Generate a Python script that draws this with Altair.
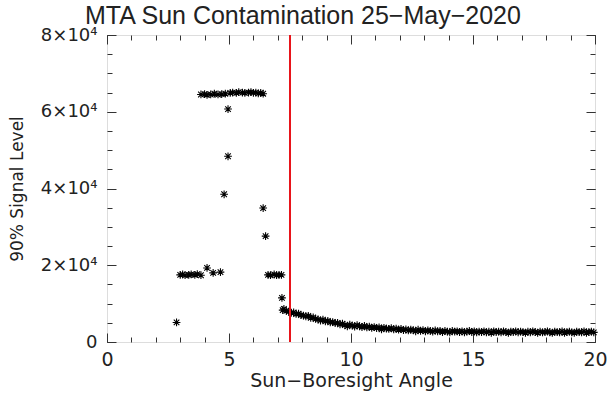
import altair as alt
import pandas as pd

# ---- data ----
early_x = [2.85, 3.0, 3.1, 3.2, 3.35, 3.45, 3.6, 3.7, 3.85, 4.1, 4.35, 4.65, 4.8, 4.96, 4.96,
           3.85, 4.0, 4.1, 4.25, 4.4, 4.55, 4.7, 4.85,
           5.05, 5.15, 5.3, 5.4, 5.55, 5.65, 5.8, 5.9, 6.0, 6.1, 6.2, 6.3, 6.4,
           6.4, 6.5, 6.6, 6.7, 6.85, 6.95, 7.05, 7.15, 7.17]
early_y = [5100, 17500, 17600, 17400, 17500, 17600, 17500, 17700, 17400, 19300, 18000, 18200, 38500, 48400, 60700,
           64500, 64600, 64400, 64500, 64700, 64500, 64600, 64700,
           64900, 65000, 64900, 65100, 65000, 64900, 65000, 65100, 64900, 65000, 64800, 64900, 64700,
           34900, 27600, 17500, 17400, 17600, 17400, 17500, 17500, 11500]

decay_x = [7.2, 7.25, 7.35, 7.45, 7.55, 7.65, 7.75, 7.85, 7.95, 8.05, 8.15, 8.25, 8.35, 8.45, 8.55, 8.65,
           8.75, 8.85, 8.95, 9.05, 9.15, 9.25, 9.35, 9.45, 9.55, 9.65, 9.75, 9.85, 9.95, 10.05, 10.15,
           10.25, 10.35, 10.45, 10.55, 10.65, 10.75, 10.85, 10.95, 11.05, 11.15, 11.25, 11.35, 11.45,
           11.55, 11.65, 11.75, 11.85, 11.95, 12.05, 12.15, 12.25, 12.35, 12.45, 12.55, 12.65, 12.75,
           12.85, 12.95, 13.05, 13.15, 13.25, 13.35, 13.45, 13.55, 13.65, 13.75, 13.85, 13.95, 14.05,
           14.15, 14.25, 14.35, 14.45, 14.55, 14.65, 14.75, 14.85, 14.95, 15.05, 15.15, 15.25, 15.35,
           15.45, 15.55, 15.65, 15.75, 15.85, 15.95, 16.05, 16.15, 16.25, 16.35, 16.45, 16.55, 16.65,
           16.75, 16.85, 16.95, 17.05, 17.15, 17.25, 17.35, 17.45, 17.55, 17.65, 17.75, 17.85, 17.95,
           18.05, 18.15, 18.25, 18.35, 18.45, 18.55, 18.65, 18.75, 18.85, 18.95, 19.05, 19.15, 19.25,
           19.35, 19.45, 19.55, 19.65, 19.75, 19.85, 19.95]
decay_y = [8300, 8600, 8100, 7900, 7600, 7700, 7300, 7400, 7000, 6900, 6700, 6800, 6300, 6400, 6000, 5900,
           5600, 5800, 5400, 5500, 5100, 5200, 4900, 5000, 4600, 4800, 4400, 4100, 4500, 4300, 4000,
           4400, 4100, 3900, 4200, 3800, 4000, 3700, 3900, 3600, 3800, 3300, 3700, 3500,
           3400, 3600, 3300, 3500, 3200, 3400, 3100, 3300, 3000, 3200, 3100, 2800, 3200,
           2900, 3100, 2800, 3000, 2900, 2700, 3000, 2800, 2900, 2600, 2900, 2700, 2500,
           2900, 2700, 2800, 2600, 2800, 2500, 2700, 2900, 2600, 2800, 2500, 2700, 2600,
           2800, 2500, 2700, 2400, 2800, 2600, 2700, 2500, 2800, 2600, 2400, 2700, 2600,
           2800, 2500, 2700, 2600, 2400, 2700, 2500, 2800, 2600, 2400, 2700, 2500, 2600,
           2800, 2500, 2400, 2700, 2600, 2500, 2800, 2400, 2600, 2700, 2500, 2400, 2700,
           2600, 2500, 2800, 2400, 2600, 2700, 2500]

threshold = [7.5]
x_major = [0, 5, 10, 15, 20]
x_minor = list(range(0, 21))
y_major = [0, 20000, 40000, 60000, 80000]
y_minor = list(range(0, 80001, 5000))

df = pd.DataFrame({"angle": early_x + decay_x, "signal": early_y + decay_y})
tdf = pd.DataFrame({"angle": threshold})

FONT = "DejaVu Sans"
AX = "#333333"
xscale = alt.Scale(domain=[0, 20], nice=False, zero=False)
yscale = alt.Scale(domain=[0, 80000], nice=False)

asterisk = "M-1,0L1,0M0,-1L0,1M-0.72,-0.72L0.72,0.72M-0.72,0.72L0.72,-0.72"

ylabel = "datum.value == 0 ? '0' : (datum.value/10000) + '×10⁴'"


def tick_axis(orient, values, size):
    return alt.Axis(orient=orient, values=values, tickSize=size, offset=-size,
                    labels=False, domain=False, grid=False, title=None,
                    tickColor=AX, tickWidth=1)


points = alt.Chart(df).mark_point(
    shape=asterisk, filled=False, size=60, color="black", strokeWidth=1.1, opacity=1
).encode(
    x=alt.X("angle:Q", scale=xscale,
            axis=alt.Axis(orient="bottom", values=x_major, ticks=False, domain=False, grid=False,
                          labelFlush=False, labelOverlap=False,
                          labelFontSize=19, labelFont=FONT, labelColor="#222", labelPadding=8,
                          title="Sun−Boresight Angle", titleFontSize=19, titleFont=FONT,
                          titleFontWeight="normal", titleColor="#222", titlePadding=2)),
    y=alt.Y("signal:Q", scale=yscale,
            axis=alt.Axis(orient="left", values=y_major, ticks=False, domain=False, grid=False,
                          labelFlush=False,
                          labelExpr=ylabel, labelFontSize=18, labelFont=FONT, labelColor="#222",
                          labelPadding=10,
                          title="90% Signal Level", titleFontSize=17, titleFont=FONT,
                          titleFontWeight="normal", titleColor="#222", titlePadding=14)),
)


def ghost(ox, oy, xv, yv, size):
    return alt.Chart(df).mark_point(opacity=0).encode(
        x=alt.X("angle:Q", scale=xscale, axis=tick_axis(ox, xv, size)),
        y=alt.Y("signal:Q", scale=yscale, axis=tick_axis(oy, yv, size)),
    )


g1 = ghost("bottom", "left", x_major, y_major, 9)
g2 = ghost("bottom", "left", x_minor, y_minor, 5)
g3 = ghost("top", "right", x_major, y_major, 9)
g4 = ghost("top", "right", x_minor, y_minor, 5)

rule = alt.Chart(tdf).mark_rule(color="#e8141a", strokeWidth=2).encode(
    x=alt.X("angle:Q", scale=xscale, axis=None)
)

chart = alt.layer(g1, g2, g3, g4, points, rule).resolve_axis(
    x="independent", y="independent"
).properties(
    width=488, height=307,
    autosize=alt.AutoSizeParams(type="none"),
    padding={"left": 107, "top": 35, "right": 13, "bottom": 54},
    title=alt.TitleParams("MTA Sun Contamination 25−May−2020", anchor="start", frame="group",
                          dx=-22, dy=9,
                          fontSize=25, font="Liberation Sans", fontWeight="normal", color="#222",
                          offset=6),
).configure_view(stroke=AX, strokeWidth=1).configure(background="white")

chart.save("out.html", embed_options={"renderer": "svg", "actions": False})
